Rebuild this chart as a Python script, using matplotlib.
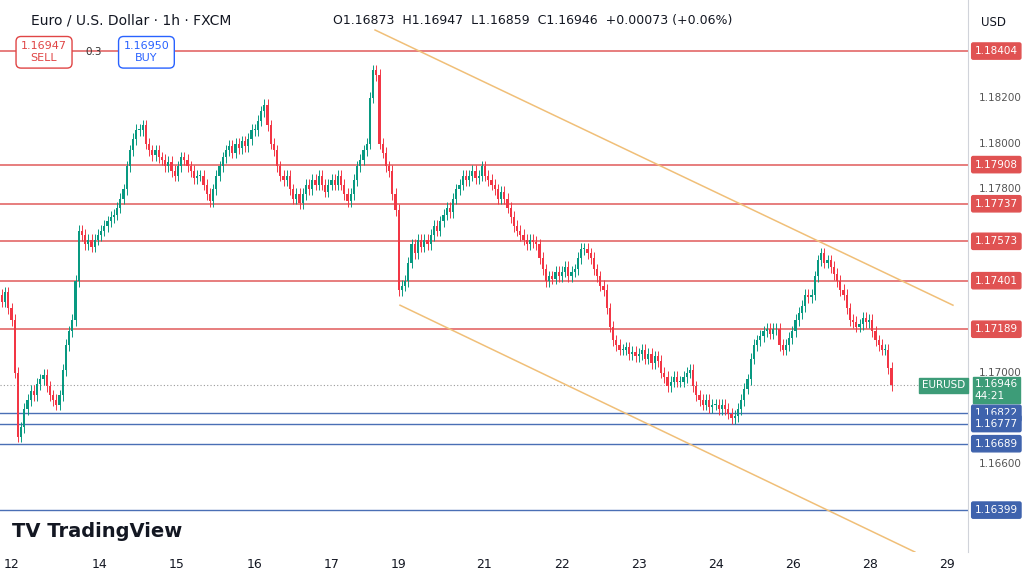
import matplotlib
matplotlib.use("Agg")
import matplotlib.pyplot as plt
import matplotlib.transforms as mtransforms
from matplotlib.patches import Rectangle

closes_pips = [11731,11735,11728,11723, 11700,11672,11676,11684, 11688,11692,11690,11695,11697,11699,
 11694,11690,11688,11686, 11690,11701,11712, 11718,11723,11740, 11762,11760, 11756,11758,11755,11758,
 11760,11762,11764, 11766,11768,11769, 11772,11776,11780, 11790,11797, 11802,11806,11806,
 11808,11800,11797,11795, 11797,11794,11793, 11790,11792,11788,11786, 11790,11794,11793,
 11790,11788,11785,11786,11786, 11782,11778,11775, 11780,11786, 11790,11794,11797,
 11799,11796,11800,11798,11801,11799, 11802,11806,11806, 11810,11814,11817, 11808,11800,11797,
 11790,11786,11784,11786, 11780,11776,11778,11774, 11778,11782,11780,11784,11782,
 11786,11782,11779,11782,11784,11782, 11786,11782,11778,11775,11778, 11784,11790,11793,
 11797,11800, 11820,11832, 11830,11800, 11796,11790,11788, 11778,11771, 11736, 11738,11740,
 11748,11756, 11752,11758,11755,11758, 11756,11760,11764, 11762,11766,11769,
 11772,11770,11776,11780, 11782,11786,11784,11786, 11788,11785,11786, 11790,11786,11784,11782,
 11780,11776,11779,11776, 11772,11768,11764, 11762,11760,11758, 11756,11758,11757,11756,
 11750,11745,11740, 11742,11741,11744,11742, 11744,11746,11742,11744,11745, 11750,11754,11754,
 11752,11750,11745, 11742,11738,11736, 11728,11720,11714, 11712,11710,11710,
 11711,11708,11709,11707,11708, 11710,11706,11708, 11704,11707,11705, 11700,11698,11694,11696,
 11698,11696,11696, 11698,11700,11701, 11694,11690,11688, 11686,11688,11685,11686,11686,
 11684,11686,11684, 11682,11680,11681, 11684,11688, 11693,11697, 11706,11712,11714,
 11716,11718,11719, 11717,11719,11719, 11712,11710, 11712,11715,11718,11723, 11726,11729,11734,
 11733,11734, 11742,11749, 11752,11748,11749, 11746,11743, 11740,11736,11734, 11728,11723,
 11722,11720,11721, 11724,11722,11723, 11718,11714, 11712,11710,11710, 11702,11694.6]
closes = [c / 1e4 for c in closes_pips]
opens = [closes[0] + 0.0003] + closes[:-1]

red_levels = [1.18404, 1.17908, 1.17737, 1.17573, 1.17401, 1.17189]
blue_levels = [1.16822, 1.16777, 1.16689, 1.16399]
gray_ticks = [1.18200, 1.18000, 1.17800, 1.17000, 1.16600]
day_labels = ["12", "14", "15", "16", "17", "19", "21", "22", "23", "24", "26", "28", "29"]
day_pos = [3.1, 30.6, 54.7, 79.1, 103.1, 124.1, 150.6, 175, 199.1, 223.1, 247.2, 271.3, 295.3]
upper_line = ([116.6, 297.2], [1.18496, 1.17294])
lower_line = ([124.4, 285.3], [1.17294, 1.16216])
last_price = 1.16946

UP, DN = "#089981", "#f23645"
fig = plt.figure(figsize=(10.24, 5.81), dpi=100)
ax = fig.add_axes([0, 29/581, 968/1024, 552/581])
ax.set_xlim(-0.6, 301.9)
ax.set_ylim(1.16216, 1.18627)

for y in red_levels:
    ax.axhline(y, color="#e05a5a", lw=1.1, zorder=1)
for y in blue_levels:
    ax.axhline(y, color="#4a6fb5", lw=1.0, zorder=1)
ax.axhline(last_price, color="#9a9a9a", lw=0.8, ls=(0, (1, 2)), zorder=1)
ax.plot(*upper_line, color="#f0bf78", lw=1.1, zorder=2)
ax.plot(*lower_line, color="#f0bf78", lw=1.1, zorder=2)

for i, (o, c) in enumerate(zip(opens, closes)):
    col = UP if c >= o else DN
    hi = max(o, c) + 0.00025
    lo = min(o, c) - 0.00025
    ax.vlines(i, lo, hi, color=col, lw=0.7, zorder=3)
    ax.add_patch(Rectangle((i - 0.35, min(o, c)), 0.7, max(abs(c - o), 0.00002),
                           color=col, zorder=3, lw=0))

ax.set_xticks(day_pos)
ax.set_xticklabels(day_labels, fontsize=9, color="#131722")
ax.tick_params(axis="x", length=0, pad=4)
ax.set_yticks([])
for s in ["top", "left", "bottom"]:
    ax.spines[s].set_visible(False)
ax.spines["right"].set_color("#d0d3da")

tr = mtransforms.blended_transform_factory(ax.transAxes, ax.transData)
for y in gray_ticks:
    ax.text(1.011, y, f"{y:.5f}", transform=tr, fontsize=7.5, color="#555", va="center", clip_on=False)
def box(y, txt, fc):
    ax.text(1.007, y, txt, transform=tr, fontsize=7.5, color="white", va="center", ha="left",
            clip_on=False,
            bbox=dict(boxstyle="round,pad=0.3,rounding_size=0.15", fc=fc, ec=fc))
for y in red_levels:
    box(y, f"{y:.5f}", "#e05252")
for y in blue_levels:
    box(y, f"{y:.5f}", "#3f63ad")
ax.text(1.007, last_price + 0.00024, f"{last_price:.5f}\n44:21", transform=tr, fontsize=7.5,
        color="white", va="top", ha="left", clip_on=False, linespacing=1.15,
        bbox=dict(boxstyle="square,pad=0.2", fc="#3d9c78", ec="#3d9c78"))
ax.text(0.997, last_price - 0.00002, "EURUSD", transform=tr, fontsize=7.5, color="white", va="center",
        ha="right", bbox=dict(boxstyle="square,pad=0.25", fc="#3d9c78", ec="#3d9c78"))
fig.text(0.958, 0.962, "USD", fontsize=8.5, color="#131722", va="center")

fig.text(0.030, 0.965, "Euro / U.S. Dollar · 1h · FXCM", fontsize=10, color="#131722", va="center")
fig.text(0.325, 0.965, "O1.16873  H1.16947  L1.16859  C1.16946  +0.00073 (+0.06%)", fontsize=9,
         color="#131722", va="center")
fig.text(0.043, 0.91, "1.16947\nSELL", fontsize=8, color="#e04545", ha="center", va="center",
         bbox=dict(boxstyle="round,pad=0.45", fc="white", ec="#e04545"))
fig.text(0.091, 0.91, "0.3", fontsize=7.5, color="#333", ha="center", va="center")
fig.text(0.143, 0.91, "1.16950\nBUY", fontsize=8, color="#2962ff", ha="center", va="center",
         bbox=dict(boxstyle="round,pad=0.45", fc="white", ec="#2962ff"))
fig.text(0.012, 0.085, "TV TradingView", fontsize=14, fontweight="bold", color="#131722", va="center")
fig.savefig("out.png", dpi=100)
